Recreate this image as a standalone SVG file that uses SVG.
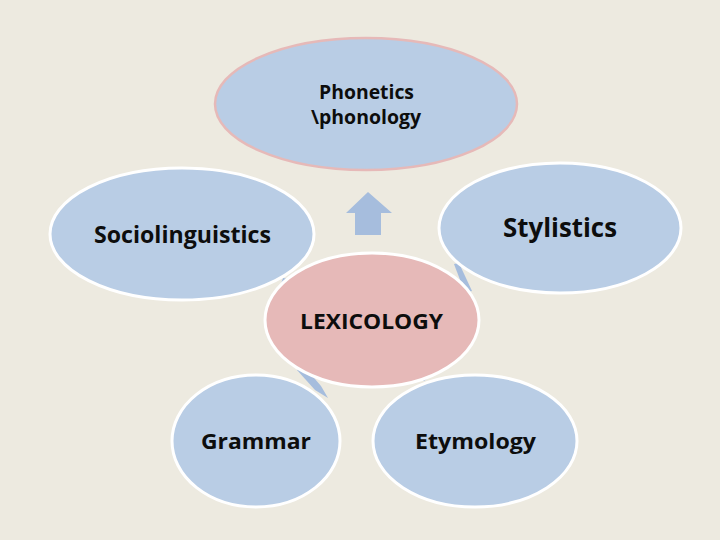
<svg xmlns="http://www.w3.org/2000/svg" width="720" height="540" viewBox="0 0 720 540">
<style>
.sat{fill:#B9CDE5;stroke:#FFFFFF;stroke-width:3}
.top{fill:#B9CDE5;stroke:#E6B9B8;stroke-width:2.5}
.core{fill:#E6B9B8;stroke:#FFFFFF;stroke-width:3}
.conn{fill:#A6BDDD;stroke:none}
.lbl{font-family:"Open Sans","Noto Sans","Liberation Sans",sans-serif;font-weight:700;fill:#0D0D0D;text-anchor:start}
</style>
<rect x="0" y="0" width="720" height="540" fill="#EDEAE0"/>
<g id="connectors">
<polygon class="conn" points="454,264 459,263 472,291 465,293"/>
<polygon class="conn" points="278,292 283,278 288,279 283,296"/>
<polygon class="conn" points="297,370 303,365 321,386 328,398 315,390"/>
<polygon class="conn" points="419,378 428,372 433,374 424,381"/>
<polygon class="conn" points="368,192 392,213 381,213 381,235 355,235 355,213 346,213"/>
</g>
<g id="phonetics">
<ellipse class="top" cx="366" cy="104" rx="151" ry="66"/>
<text class="lbl" x="319" y="99" font-size="20" textLength="95" lengthAdjust="spacingAndGlyphs">Phonetics</text>
<text class="lbl" x="311" y="124" font-size="20" textLength="110" lengthAdjust="spacingAndGlyphs">\phonology</text>
</g>
<g id="sociolinguistics">
<ellipse class="sat" cx="182" cy="234" rx="132" ry="66"/>
<text class="lbl" x="94" y="243" font-size="23" textLength="177" lengthAdjust="spacingAndGlyphs">Sociolinguistics</text>
</g>
<g id="stylistics">
<ellipse class="sat" cx="560" cy="228" rx="121" ry="65"/>
<text class="lbl" x="503" y="237" font-size="27" textLength="114" lengthAdjust="spacingAndGlyphs">Stylistics</text>
</g>
<g id="lexicology">
<ellipse class="core" cx="372" cy="320" rx="107" ry="67"/>
<text class="lbl" x="300" y="329" font-size="22" textLength="143" lengthAdjust="spacingAndGlyphs">LEXICOLOGY</text>
</g>
<g id="grammar">
<ellipse class="sat" cx="256" cy="441" rx="84" ry="66"/>
<text class="lbl" x="201" y="449" font-size="21" textLength="110" lengthAdjust="spacingAndGlyphs">Grammar</text>
</g>
<g id="etymology">
<ellipse class="sat" cx="475" cy="441" rx="102" ry="66"/>
<text class="lbl" x="415" y="449" font-size="22" textLength="121" lengthAdjust="spacingAndGlyphs">Etymology</text>
</g>
</svg>
